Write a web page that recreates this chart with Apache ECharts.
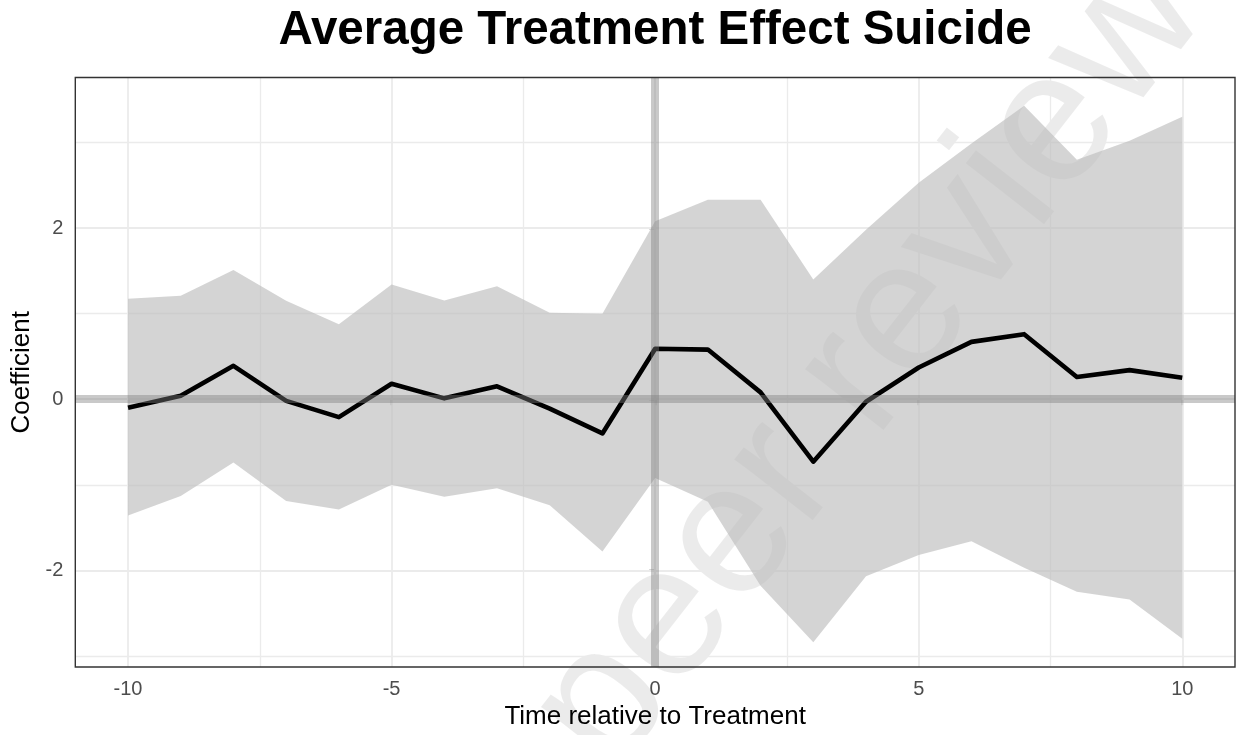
<!DOCTYPE html>
<html>
<head>
<meta charset="utf-8">
<script src="https://cdn.jsdelivr.net/npm/echarts@6/dist/echarts.min.js"></script>
<style>
html,body{margin:0;padding:0;background:#fff;}
#chart{width:1238px;height:735px;}
</style>
</head>
<body>
<div id="chart"></div>
<script>
// ---- data ----
var times = [-10,-9,-8,-7,-6,-5,-4,-3,-2,-1,0,1,2,3,4,5,6,7,8,9,10];
var coef  = [-0.10,0.04,0.39,-0.02,-0.21,0.18,0.01,0.15,-0.11,-0.40,0.59,0.58,0.08,-0.73,-0.03,0.37,0.67,0.76,0.26,0.34,0.25];
var upper = [1.175,1.21,1.51,1.15,0.875,1.34,1.155,1.32,1.01,1.00,2.08,2.33,2.33,1.40,1.98,2.53,2.99,3.43,2.80,3.02,3.30];
var lower = [-1.36,-1.13,-0.74,-1.19,-1.29,-1.00,-1.14,-1.04,-1.24,-1.78,-0.92,-1.20,-2.18,-2.84,-2.07,-1.82,-1.66,-1.97,-2.25,-2.34,-2.80];
var xTicks = [-10,-5,0,5,10];
var xMinor = [-7.5,-2.5,2.5,7.5];
var yTicks = [-2,0,2];
var yMinor = [-3,-1,1,3];
var watermark = 'peer review';

var FONT = '"Liberation Sans", Arial, Helvetica, sans-serif';
var chart = echarts.init(document.getElementById('chart'), null, {renderer:'canvas'});

function gridLines(vals, axis, w){
  return vals.map(function(v){
    var o = {lineStyle:{color:'#EBEBEB', width:w, type:'solid'}};
    o[axis] = v; return o;
  });
}

var option = {
  animation:false,
  backgroundColor:'#ffffff',
  title:{
    text:'Average Treatment Effect Suicide',
    left:655, top:7, padding:0, textAlign:'center',
    textStyle:{fontFamily:FONT, fontWeight:'bold', fontSize:47.5, color:'#000'}
  },
  grid:{left:75.3, right:3, top:77.5, bottom:66.7, show:true, borderColor:'#333333', borderWidth:1.4, backgroundColor:'transparent', containLabel:false, z:20},
  xAxis:{
    type:'value', min:-11, max:11,
    name:'Time relative to Treatment', nameLocation:'middle', nameGap:37,
    nameTextStyle:{fontFamily:FONT, fontSize:26, color:'#000'},
    axisLine:{show:false},
    axisTick:{show:true, length:6, customValues:xTicks, lineStyle:{color:'#333333', width:1.4}},
    axisLabel:{customValues:xTicks, fontFamily:FONT, fontSize:20, color:'#4D4D4D', margin:12},
    splitLine:{show:false}
  },
  yAxis:{
    type:'value', min:-3.13, max:3.76,
    name:'Coefficient', nameLocation:'middle', nameGap:38,
    nameTextStyle:{fontFamily:FONT, fontSize:26, color:'#000'},
    axisLine:{show:false},
    axisTick:{show:true, length:6, customValues:yTicks, lineStyle:{color:'#333333', width:1.4}},
    axisLabel:{customValues:yTicks, fontFamily:FONT, fontSize:20, color:'#4D4D4D', margin:12},
    splitLine:{show:false}
  },
  series:[
    { // watermark (behind everything)
      type:'custom', z:1, silent:true, clip:false,
      data:[[0,0]],
      renderItem:function(params, api){
        return {type:'text', x:870, y:363, rotation:52*Math.PI/180,
          style:{text:watermark, fontSize:188, fontFamily:FONT, fill:'rgba(0,0,0,0.08)', align:'center', verticalAlign:'middle'}};
      }
    },
    { // grid lines
      type:'line', data:[], z:5, silent:true,
      markLine:{z:5, silent:true, symbol:'none', label:{show:false}, animation:false,
        data: [].concat(gridLines(xTicks,'xAxis',1.8), gridLines(xMinor,'xAxis',1.3),
                        gridLines(yTicks,'yAxis',1.8), gridLines(yMinor,'yAxis',1.3))}
    },
    { // confidence ribbon
      type:'custom', z:10, silent:true,
      data: times.map(function(t,i){return [t, lower[i], upper[i]];}),
      encode:{x:0, y:[1,2]},
      renderItem:function(params, api){
        if (params.dataIndex !== 0) return null;
        var pts = [];
        for (var i=0;i<times.length;i++) pts.push(api.coord([times[i], upper[i]]));
        for (var j=times.length-1;j>=0;j--) pts.push(api.coord([times[j], lower[j]]));
        return {type:'polygon', shape:{points:pts}, style:{fill:'rgba(189,189,189,0.65)'}};
      }
    },
    { // coefficient line
      type:'line', z:11, silent:true, symbol:'none',
      data: times.map(function(t,i){return [t, coef[i]];}),
      lineStyle:{color:'#000', width:4.6, join:'round', cap:'butt'}
    },
    { // reference lines
      type:'line', data:[], z:12, silent:true,
      markLine:{z:12, silent:true, symbol:'none', label:{show:false}, animation:false,
        data:[{yAxis:0, lineStyle:{color:'rgba(127,127,127,0.42)', width:8, type:'solid'}},
              {xAxis:0, lineStyle:{color:'rgba(127,127,127,0.42)', width:8, type:'solid'}}]}
    }
  ]
};
chart.setOption(option);
</script>
</body>
</html>
